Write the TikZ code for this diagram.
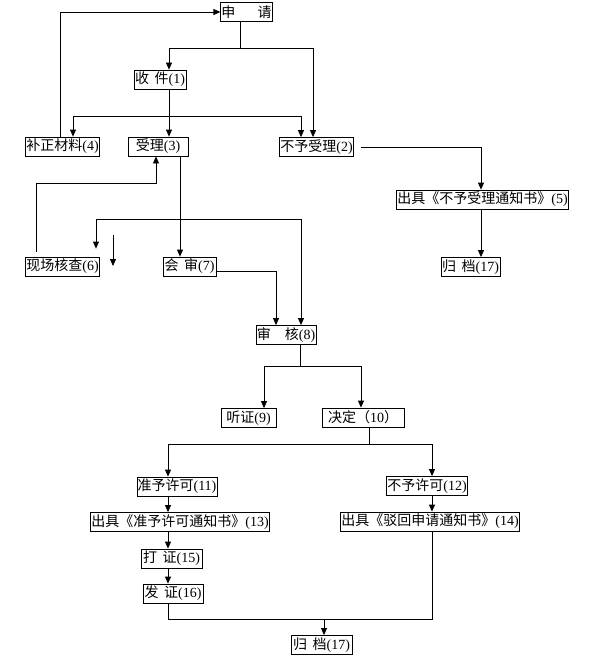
\documentclass[tikz,border=0pt]{standalone}
\usepackage{fontspec}
\setmainfont{Liberation Serif}
\newfontfamily\cjk{Noto Sans CJK SC}
\newcommand{\cntext}[1]{{\cjk #1}}
\usepackage{tikz}
\usetikzlibrary{arrows.meta}

\begin{document}
\begin{tikzpicture}[
    x=1pt, y=-1pt,
    box/.style={draw, line width=0.8pt, inner sep=0.5pt, minimum height=19pt, align=center, font=\fontsize{14}{14}\selectfont},
    line/.style={line width=0.8pt},
    arrow/.style={line width=0.8pt, -{Triangle[length=7pt, width=6pt]}}
]
    \useasboundingbox (0,0) rectangle (593,661);

    \node[box, minimum width=51pt] (sq) at (246.5,12) {\cntext{申\hspace{1.6em}请}};
    \node[box, minimum width=52pt] (sj) at (160,79.5) {\cntext{收\hspace{0.4em}件}(1)};
    \node[box, minimum width=73pt] (bz) at (62.5,146.5) {\cntext{补正材料}(4)};
    \node[box, minimum width=60pt] (sl) at (158,146.5) {\cntext{受理}(3)};
    \node[box, minimum width=73pt] (bysl) at (316.5,147) {\cntext{不予受理}(2)};
    \node[box, minimum width=171pt] (cj5) at (482.5,199.5) {\cntext{出具《不予受理通知书》}(5)};
    \node[box, minimum width=59pt] (gd1) at (470.5,267) {\cntext{归\hspace{0.4em}档}(17)};
    \node[box, minimum width=73pt] (xc) at (62.5,266.5) {\cntext{现场核查}(6)};
    \node[box, minimum width=53pt] (hs) at (189.5,266.5) {\cntext{会\hspace{0.4em}审}(7)};
    \node[box, minimum width=60pt] (sh) at (286,335) {\cntext{审\hspace{1em}核}(8)};
    \node[box, minimum width=55pt] (tz) at (248.5,418) {\cntext{听证}(9)};
    \node[box, minimum width=82pt] (jd) at (363,417.5) {\cntext{决定（}10\cntext{）}};
    \node[box, minimum width=80pt] (zy) at (177,486.5) {\cntext{准予许可}(11)};
    \node[box, minimum width=80pt] (by) at (427,486) {\cntext{不予许可}(12)};
    \node[box, minimum width=178pt] (cj13) at (180,522) {\cntext{出具《准予许可通知书》}(13)};
    \node[box, minimum width=178pt] (cj14) at (430,521.5) {\cntext{出具《驳回申请通知书》}(14)};
    \node[box, minimum width=61pt] (dz) at (171.5,558.5) {\cntext{打\hspace{0.4em}证}(15)};
    \node[box, minimum width=60pt] (fz) at (173,593.5) {\cntext{发\hspace{0.4em}证}(16)};
    \node[box, minimum width=61pt] (gd2) at (321.5,645) {\cntext{归\hspace{0.4em}档}(17)};

    % junction points
    \coordinate (c1) at (60,12);
    \coordinate (c2) at (240,48);
    \coordinate (c3) at (169,48);
    \coordinate (c4) at (313,48);
    \coordinate (c5) at (73,116);
    \coordinate (c6) at (301,116);
    \coordinate (c7) at (481,147);
    \coordinate (c8) at (36,183);
    \coordinate (c9) at (156,183);
    \coordinate (c10) at (180,219);
    \coordinate (c11) at (96,219);
    \coordinate (c12) at (301,219);
    \coordinate (c13) at (113,235);
    \coordinate (c14) at (113,266);
    \coordinate (c15) at (276,271);
    \coordinate (c16) at (300,366);
    \coordinate (c17) at (264,366);
    \coordinate (c18) at (361,366);
    \coordinate (c19) at (369,444);
    \coordinate (c20) at (168,444);
    \coordinate (c21) at (432,444);
    \coordinate (c22) at (168,619);
    \coordinate (c23) at (432,619);
    \coordinate (c24) at (324,619);

    \draw[arrow] (bz.north -| c1) -- (c1) -- (sq.west);
    \draw[line] (sq.south -| c2) -- (c2);
    \draw[line] (c3) -- (c4);
    \draw[arrow] (c3) -- (sj.north -| c3);
    \draw[arrow] (c4) -- (bysl.north -| c4);
    \draw[arrow] (sj.south -| c3) -- (sl.north -| c3);
    \draw[line] (c5) -- (c6);
    \draw[arrow] (c5) -- (bz.north -| c5);
    \draw[arrow] (c6) -- (bysl.north -| c6);
    \draw[arrow, shorten <=7pt] (bysl.east |- c7) -- (c7) -- (cj5.north -| c7);
    \draw[arrow] (cj5.south -| c7) -- (gd1.north -| c7);
    \draw[arrow, shorten <=5pt] (xc.north -| c8) -- (c8) -- (c9) -- (sl.south -| c9);
    \draw[arrow] (sl.south -| c10) -- (hs.north -| c10);
    \draw[line] (c11) -- (c12);
    \draw[arrow, shorten >=8pt] (c11) -- (xc.north -| c11);
    \draw[arrow] (c12) -- (sh.north -| c12);
    \draw[arrow] (c13) -- (c14);
    \draw[arrow] (hs.east |- c15) -- (c15) -- (sh.north -| c15);
    \draw[line] (sh.south -| c16) -- (c16);
    \draw[line] (c17) -- (c18);
    \draw[arrow] (c17) -- (tz.north -| c17);
    \draw[arrow] (c18) -- (jd.north -| c18);
    \draw[line] (jd.south -| c19) -- (c19);
    \draw[line] (c20) -- (c21);
    \draw[arrow] (c20) -- (zy.north -| c20);
    \draw[arrow] (c21) -- (by.north -| c21);
    \draw[arrow] (zy.south -| c20) -- (cj13.north -| c20);
    \draw[arrow] (by.south -| c21) -- (cj14.north -| c21);
    \draw[arrow] (cj13.south -| c20) -- (dz.north -| c20);
    \draw[arrow] (dz.south -| c20) -- (fz.north -| c20);
    \draw[line] (fz.south -| c22) -- (c22) -- (c23) -- (cj14.south -| c23);
    \draw[arrow] (c24) -- (gd2.north -| c24);
\end{tikzpicture}
\end{document}
